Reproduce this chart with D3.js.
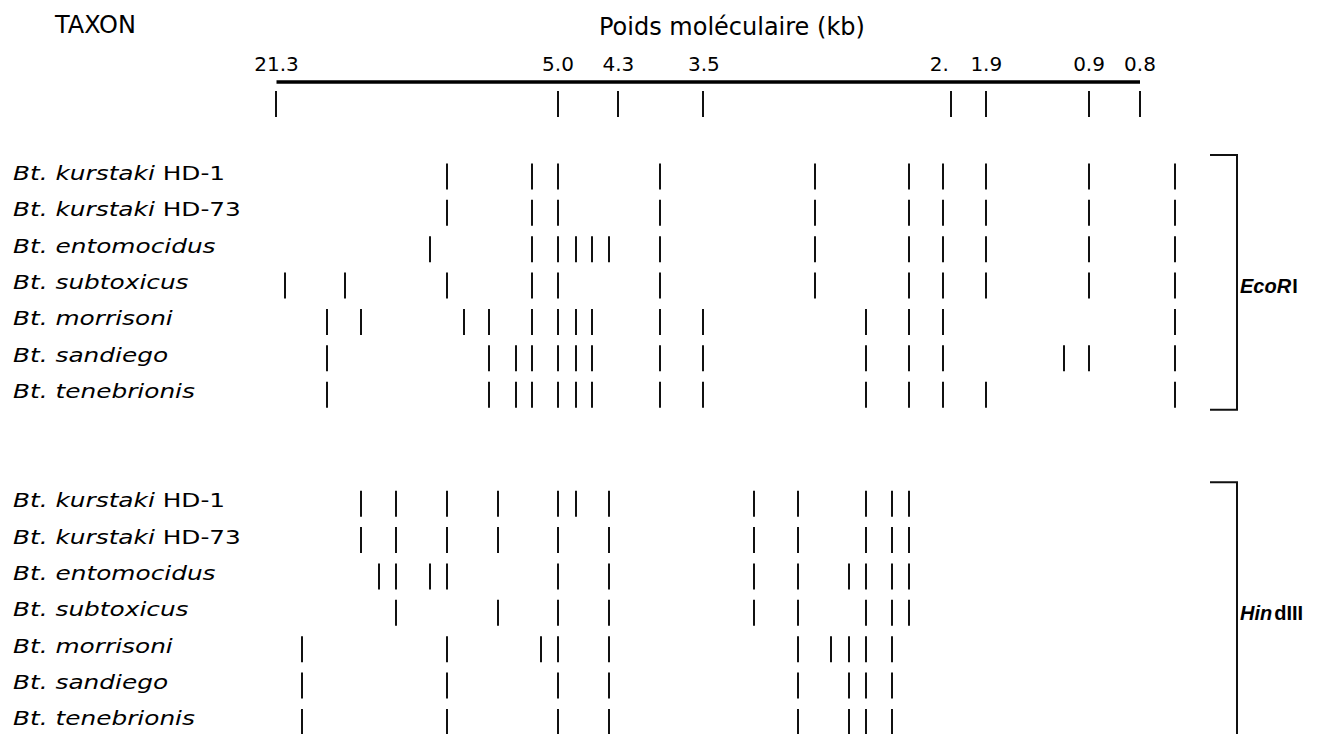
<!DOCTYPE html>
<html><head><meta charset="utf-8">
<script src="https://cdn.jsdelivr.net/npm/d3@7"></script>
<style>
body{margin:0;background:#fff;}
svg{display:block;background:#fff;}
text{font-family:"DejaVu Sans",sans-serif;fill:#000;}
</style>
</head><body>
<svg id="c" width="1341" height="734"></svg>
<script>
// Reference markers: size labels (kb) and migration distance (arbitrary units)
const markerKb  = ["21.3","5.0","4.3","3.5","2.","1.9","0.9","0.8"];
const markerMig = [0, 32.6, 39.6, 49.5, 78.2, 82.2, 94.1, 100];

// Taxa
const taxa    = ["kurstaki","kurstaki","entomocidus","subtoxicus","morrisoni","sandiego","tenebrionis"];
const strains = ["HD-1","HD-73","","","","",""];

// Band migration distances, EcoRI digest
const ecoRI = [
  [19.8, 29.7, 32.6, 44.5, 62.4, 73.3, 77.2, 82.2, 94.2, 104.1],
  [19.8, 29.7, 32.6, 44.5, 62.4, 73.3, 77.2, 82.2, 94.2, 104.1],
  [17.8, 29.7, 32.6, 34.7, 36.6, 38.6, 44.5, 62.4, 73.3, 77.2, 82.2, 94.2, 104.1],
  [1.0, 8.0, 19.8, 29.7, 32.6, 44.5, 62.4, 73.3, 77.2, 82.2, 94.2, 104.1],
  [5.9, 9.9, 21.8, 24.7, 29.7, 32.6, 34.7, 36.6, 44.5, 49.5, 68.3, 73.3, 77.2, 104.1],
  [5.9, 24.7, 27.8, 29.7, 32.6, 34.7, 36.6, 44.5, 49.5, 68.3, 73.3, 77.2, 91.2, 94.2, 104.1],
  [5.9, 24.7, 27.8, 29.7, 32.6, 34.7, 36.6, 44.5, 49.5, 68.3, 73.3, 77.2, 82.2, 104.1]
];
// Band migration distances, HindIII digest
const hindIII = [
  [9.9, 13.9, 19.8, 25.7, 32.6, 34.7, 38.6, 55.4, 60.4, 68.3, 71.3, 73.3],
  [9.9, 13.9, 19.8, 25.7, 32.6, 38.6, 55.4, 60.4, 68.3, 71.3, 73.3],
  [11.9, 13.9, 17.8, 19.8, 32.6, 38.6, 55.4, 60.4, 66.3, 68.3, 71.3, 73.3],
  [13.9, 25.7, 32.6, 38.6, 55.4, 60.4, 68.3, 71.3, 73.3],
  [3.0, 19.8, 30.7, 32.6, 38.6, 60.4, 64.3, 66.3, 68.3, 71.3],
  [3.0, 19.8, 32.6, 38.6, 60.4, 66.3, 68.3, 71.3],
  [3.0, 19.8, 32.6, 38.6, 60.4, 66.3, 68.3, 71.3]
];
const enzymeItalic = ["EcoR", "Hin"];
const enzymeRoman  = ["I", "dIII"];

const svg = d3.select("#c");
const x = d3.scaleLinear().domain([0, 100]).range([276, 1139.5]);
const rowStep = 36.36, rowTop0 = 163.5, bandH = 26, groupOffset = 9;
const y = d3.scaleLinear().domain([0, 1]).range([rowTop0, rowTop0 + rowStep]);

// Header texts
svg.append("text").attr("x", 55).attr("y", 33).attr("font-size", 24).text("TAXON");
svg.append("text").attr("x", 599).attr("y", 35).attr("font-size", 24).text("Poids moléculaire (kb)");

// Top axis with kb labels
const axis = d3.axisTop(x).tickValues(markerMig)
  .tickFormat((d, i) => markerKb[i]).tickSize(0).tickPadding(11);
const ag = svg.append("g").attr("transform", "translate(0,81.5)").call(axis);
ag.select(".domain").attr("stroke", "#000").attr("stroke-width", 3.5);
ag.selectAll("text").attr("font-size", 20).attr("font-family", "DejaVu Sans, sans-serif").attr("fill", "#000")
  .attr("text-anchor", (d, i) => markerKb[i].endsWith(".") ? "end" : "middle")
  .attr("dx", (d, i) => markerKb[i].endsWith(".") ? -3 : 0);

// Marker ticks
svg.append("g").selectAll("line").data(markerMig).join("line")
  .attr("x1", d => Math.round(x(d))).attr("x2", d => Math.round(x(d)))
  .attr("y1", 91).attr("y2", 117)
  .attr("stroke", "#111").attr("stroke-width", 2);

// Bands + labels for both digests
[ecoRI, hindIII].forEach((lanes, g) => {
  lanes.forEach((bands, i) => {
    const top = y(i + g * groupOffset);
    svg.append("g").selectAll("line").data(bands).join("line")
      .attr("x1", d => Math.round(x(d))).attr("x2", d => Math.round(x(d)))
      .attr("y1", top).attr("y2", top + bandH)
      .attr("stroke", "#111").attr("stroke-width", 2);
    const t = svg.append("text")
      .attr("transform", `translate(13,${top + 16.5}) scale(1.24,1)`)
      .attr("font-size", 20);
    t.append("tspan").attr("font-style", "italic").text("Bt. " + taxa[i]);
    if (strains[i]) t.append("tspan").text(" " + strains[i]);
  });
  // Bracket
  const first = g * groupOffset, last = first + lanes.length - 1;
  const bt = y(first) - 8.5, bb = y(last) + bandH + 2;
  svg.append("path")
    .attr("d", `M1210,${bt}H1237V${bb}H1210`)
    .attr("fill", "none").attr("stroke", "#111").attr("stroke-width", 2);
  const lt = svg.append("text").attr("x", 1240).attr("y", y(first + 3) + 13 + 7)
    .attr("font-size", 20).attr("font-weight", "bold")
    .style("font-family", "'Liberation Sans', Arial, sans-serif");
  lt.append("tspan").attr("font-style", "italic").text(enzymeItalic[g]);
  lt.append("tspan").attr("dx", g === 0 ? 1 : 2).text(enzymeRoman[g]);
});
</script>
</body></html>
